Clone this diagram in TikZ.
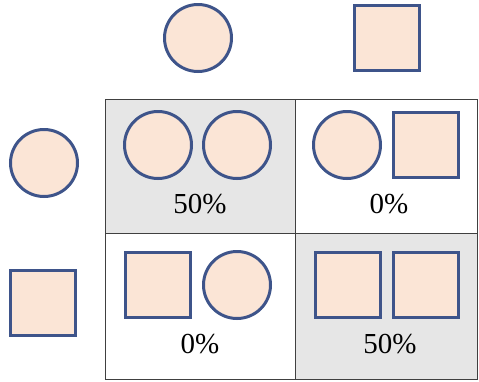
\documentclass[tikz,border=0pt]{standalone}
\usepackage{fontspec}
\setmainfont{Liberation Serif}
\definecolor{peach}{RGB}{251,229,214}
\definecolor{rim}{RGB}{62,84,138}
\definecolor{shade}{RGB}{230,230,230}
\begin{document}
\begin{tikzpicture}[x=1pt,y=-1pt]
    \tikzstyle{piece}=[draw=rim,fill=peach,line width=3pt,inner sep=0pt]
    \tikzstyle{ball}=[piece,circle,minimum size=67pt]
    \tikzstyle{box}=[piece,rectangle,minimum size=65pt]
    \tikzstyle{cell}=[draw=black!75,line width=1pt,rectangle,inner sep=0pt]
    \tikzstyle{share}=[font=\fontsize{29}{34}\selectfont,anchor=base,inner sep=0pt]

    \useasboundingbox (0,0) rectangle (479,381);

    % Draw the cells of the grid
    \node[cell,fill=shade,minimum width=190pt,minimum height=134pt] (c11) at (200,166) {};
    \node[cell,minimum width=182pt,minimum height=134pt] (c12) at (386,166) {};
    \node[cell,minimum width=190pt,minimum height=146pt] (c21) at (200,306) {};
    \node[cell,fill=shade,minimum width=182pt,minimum height=146pt] (c22) at (386,306) {};

    % Draw the parents along the top and the left
    \node[ball] (top1) at (198,38) {};
    \node[box] (top2) at (387,38) {};
    \node[ball] (left1) at (44,163) {};
    \node[box] (left2) at (43,303) {};

    % Draw the pairs inside the cells
    \node[ball] (p11a) at (158,145) {};
    \node[ball] (p11b) at (237,145) {};
    \node[ball] (p12a) at (347,145) {};
    \node[box] (p12b) at (426,145) {};
    \node[box] (p21a) at (157.5,285) {};
    \node[ball] (p21b) at (237,285) {};
    \node[box] (p22a) at (347.5,285) {};
    \node[box] (p22b) at (426,285) {};

    % Annotate the cells
    \node[share] (s11) at (200,213) {50\%};
    \node[share] (s12) at (389,213) {0\%};
    \node[share] (s21) at (200,353) {0\%};
    \node[share] (s22) at (390,353) {50\%};

\end{tikzpicture}
\end{document}
